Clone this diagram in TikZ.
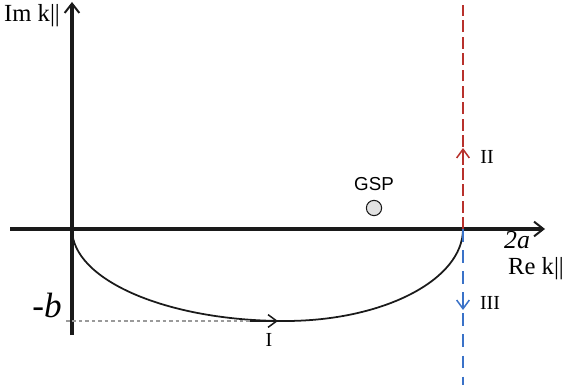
\documentclass[tikz,border=0pt]{standalone}
\usepackage{fontspec}
\setmainfont{Liberation Serif}
\newfontfamily\gspfont{Liberation Sans}
\usetikzlibrary{arrows.meta,positioning,calc}
\definecolor{ink}{HTML}{1A1A1A}
\definecolor{red1}{HTML}{B8312C}
\definecolor{blue1}{HTML}{3A72C8}
\definecolor{grey1}{HTML}{9A9A9A}
\definecolor{grey2}{HTML}{E2E2E2}

\begin{document}
\begin{tikzpicture}[x=0.03cm, y=0.03cm,
  axis/.style={ink, line width=2.6pt, -{Straight Barb[length=2.8mm, width=4.4mm, line width=1.7pt]}},
  path1/.style={ink, line width=1.5pt},
  tip/.style={-{Straight Barb[length=2.6mm, width=3.8mm, line width=1.3pt]}},
  lab/.style={inner sep=0pt, font=\fontsize{21}{23}\selectfont},
  num/.style={inner sep=0pt, font=\fontsize{17}{19}\selectfont}]
  \useasboundingbox (0,0) rectangle (568,390);
  % points
  \coordinate (o) at (72,161);
  \coordinate (a) at (463,161);
  \coordinate (low) at (285,69);
  \coordinate (b) at (66,69);
  % axes
  \draw[axis] (72,55) -- (72,388);
  \draw[axis] (10,161) -- (545,161);
  % contour I
  \draw[path1] (o) .. controls (72,110) and (167,69) .. (low) .. controls (383,69) and (463,110) .. (a);
  \draw[grey1, line width=1.1pt, dash pattern=on 3pt off 2.5pt] (b) -- (265,69);
  \draw[path1, tip] (250,69) -- (278,69);
  % contours II and III
  \draw[red1, line width=1.2pt, dash pattern=on 10pt off 4pt] (a) -- (463,385);
  \draw[red1, line width=1.2pt, tip] (463,225) -- (463,242);
  \draw[blue1, line width=1.2pt, dash pattern=on 11pt off 7pt] (a) -- (463,5);
  \draw[blue1, line width=1.2pt, tip] (463,98) -- (463,80);
  % GSP
  \node[draw=ink, fill=grey2, circle, line width=0.9pt, minimum size=13pt, inner sep=0pt] (gsp) at (374,182) {};
  \node[inner sep=0pt, font=\gspfont\fontsize{16}{18}\selectfont, above=8pt of gsp] (gsplab) {GSP};
  % labels
  \node[lab, anchor=west] (im) at (4,374) {Im k||};
  \node[lab, anchor=west] (re) at (508,121) {Re k||};
  \node[inner sep=0pt, font=\fontsize{22}{24}\selectfont\itshape] (twoa) at (517,150) {2a};
  \node[inner sep=0pt, font=\fontsize{30}{32}\selectfont\itshape] (minb) at (47,85) {-b};
  \node[num] (one) at (269,50) {I};
  \node[num] (two) at (487,233) {II};
  \node[num] (three) at (490,87) {III};
\end{tikzpicture}
\end{document}
